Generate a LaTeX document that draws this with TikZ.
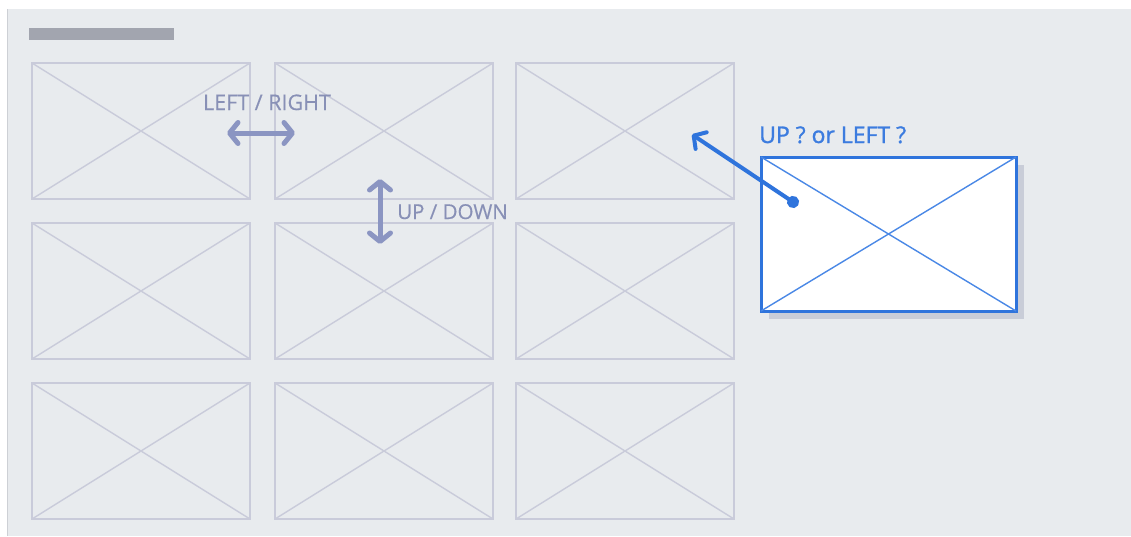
\documentclass[tikz,border=0pt]{standalone}
\usepackage{fontspec}
\setmainfont{Open Sans}
\usetikzlibrary{arrows.meta,shadows}
\definecolor{panel}{HTML}{E8EBEE}
\definecolor{panelborder}{HTML}{CDD0D5}
\definecolor{titlebar}{HTML}{A2A5AF}
\definecolor{cellline}{HTML}{C9CBDA}
\definecolor{hintc}{HTML}{8B95C2}
\definecolor{hinttext}{HTML}{8890B6}
\definecolor{selblue}{HTML}{2F74DC}
\definecolor{selline}{HTML}{4A88E6}
\definecolor{seltext}{HTML}{3C7CDF}
\definecolor{shadowc}{HTML}{C9CDD8}
\tikzset{
  cell/.style={draw=cellline, line width=2pt, minimum width=218pt, minimum height=136pt, inner sep=0pt, outer sep=0pt},
  celldiag/.style={draw=cellline, line width=1.4pt},
  hintarrow/.style={draw=hintc, line width=5pt, line cap=round,
    {Straight Barb[length=8.5pt, width=21pt, line cap=round, line join=round]}-{Straight Barb[length=8.5pt, width=21pt, line cap=round, line join=round]}},
  hintlabel/.style={text=hinttext, font=\fontsize{21.5pt}{24pt}\selectfont\addfontfeature{FakeBold=0.4}, inner sep=0pt, anchor=base},
  selbox/.style={draw=selblue, fill=white, line width=3pt, minimum width=255pt, minimum height=154pt, inner sep=0pt, outer sep=0pt,
    drop shadow={shadow xshift=8pt, shadow yshift=-8pt, fill=shadowc, opacity=1}},
  seldiag/.style={draw=selline, line width=1.4pt},
  selarrow/.style={draw=selblue, line width=4pt, line cap=round,
    {Circle[length=12pt]}-{Straight Barb[length=9pt, width=20pt, line cap=round, line join=round]}},
  sellabel/.style={text=seltext, font=\fontsize{23pt}{26pt}\selectfont\addfontfeature{FakeBold=1.2}, inner sep=0pt, anchor=base west}
}
\begin{document}
\begin{tikzpicture}[x=1pt,y=-1pt]
\useasboundingbox (0,0) rectangle (1131,536);
\fill[white] (0,0) rectangle (1131,536);
\fill[panel] (7,9) rectangle (1131,536);
\draw[panelborder, line width=1pt] (7.5,9) -- (7.5,536);
\fill[titlebar] (29,28) rectangle (174,40);
% grid cells
\foreach \r/\y in {1/131,2/291,3/451}{
  \foreach \c/\x in {1/141,2/384,3/625}{
    \node[cell] (c\r\c) at (\x,\y) {};
    \draw[celldiag] (c\r\c.north west) -- (c\r\c.south east);
    \draw[celldiag] (c\r\c.south west) -- (c\r\c.north east);
  }
}
% hints
\node[hintlabel] (lr) at (267,110) {LEFT / RIGHT};
\coordinate (lrA) at (227,133);
\coordinate (lrB) at (295,133);
\draw[hintarrow] (lrA) -- (lrB);
\coordinate (udA) at (380,179);
\coordinate (udB) at (380,244);
\draw[hintarrow] (udA) -- (udB);
\node[hintlabel, anchor=base west, font=\fontsize{20.5pt}{24pt}\selectfont\addfontfeature{FakeBold=0.4}] (ud) at (397,219) {UP / DOWN};
% selected item
\node[selbox] (sel) at (888.5,234) {};
\draw[seldiag] (sel.north west) -- (sel.south east);
\draw[seldiag] (sel.south west) -- (sel.north east);
\node[sellabel] (q) at (759,143) {UP ? or LEFT ?};
\coordinate (dot) at (798,205.3);
\coordinate (tip) at (692,134.5);
\draw[selarrow] (dot) -- (tip);
\end{tikzpicture}
\end{document}
